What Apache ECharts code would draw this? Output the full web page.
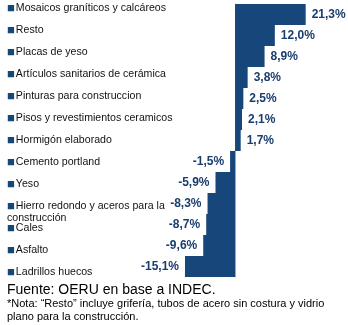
<!DOCTYPE html>
<html><head><meta charset="utf-8">
<script src="https://cdn.jsdelivr.net/npm/echarts@6/dist/echarts.min.js"></script>
<style>html,body{margin:0;padding:0;background:#fff}#c{width:348px;height:325px}</style>
</head><body><div id="c"></div>
<script>
const categories = [
  "Mosaicos graníticos y calcáreos",
  "Resto",
  "Placas de yeso",
  "Artículos sanitarios de cerámica",
  "Pinturas para construccion",
  "Pisos y revestimientos ceramicos",
  "Hormigón elaborado",
  "Cemento portland",
  "Yeso",
  "Hierro redondo y aceros para la\nconstrucción",
  "Cales",
  "Asfalto",
  "Ladrillos huecos"
];
const values = [21.3, 12.0, 8.9, 3.8, 2.5, 2.1, 1.7, -1.5, -5.9, -8.3, -8.7, -9.6, -15.1];
const sourceText = "Fuente: OERU en base a INDEC.";
const noteText = "*Nota: \u201cResto\u201d incluye grifería, tubos de acero sin costura y vidrio\nplano para la construcción.";

const chart = echarts.init(document.getElementById('c'), null, {renderer:'canvas'});
chart.setOption({
  animation:false,
  grid:[
    {left:182, right:40, top:4, bottom:48, outerBoundsMode:'none', containLabel:false},
    {left:7, right:40, top:-3, bottom:42, outerBoundsMode:'none', containLabel:false}
  ],
  xAxis:[
    {type:'value', min:-16, max:22, show:false, gridIndex:0},
    {type:'value', min:0, max:1, show:false, gridIndex:1}
  ],
  yAxis:[
    {
      type:'category', inverse:true, data:categories, gridIndex:0,
      axisLine:{show:true, onZero:true, lineStyle:{color:'#9fb3c8', width:1}},
      axisTick:{show:false},
      axisLabel:{show:false}
    },
    {
      type:'category', inverse:true, gridIndex:1, data: categories,
      axisLine:{show:false, onZero:false},
      axisTick:{show:false},
      axisLabel:{
        align:'left', margin:0, fontFamily:'Liberation Sans', fontSize:10.6, color:'#111',
        lineHeight:12,
        formatter: v => (v.indexOf('\n') >= 0 ? '\n' : '') + '{m|■}' + v,
        rich:{m:{color:'#17477a', fontSize:13, padding:[0,1,0,0]}}
      }
    }
  ],
  series:[{
    type:'bar', xAxisIndex:0, yAxisIndex:0,
    data: values.map(v => v < 0 ? {value:v, label:{position:'left'}} : v),
    barCategoryGap:0,
    itemStyle:{color:'#17477a'},
    label:{
      show:true, fontFamily:'Liberation Sans', fontWeight:'bold', fontSize:12, color:'#1a3d6d',
      position:'right', distance:6,
      formatter: p => p.value.toFixed(1).replace('.', ',') + '%'
    }
  }],
  graphic:[
    {type:'text', left:7, top:283, style:{text:sourceText, font:'14px Liberation Sans', fill:'#000'}},
    {type:'text', left:7, top:297, style:{text:noteText, font:'11px Liberation Sans', fill:'#000', lineHeight:13}}
  ]
});
</script></body></html>
